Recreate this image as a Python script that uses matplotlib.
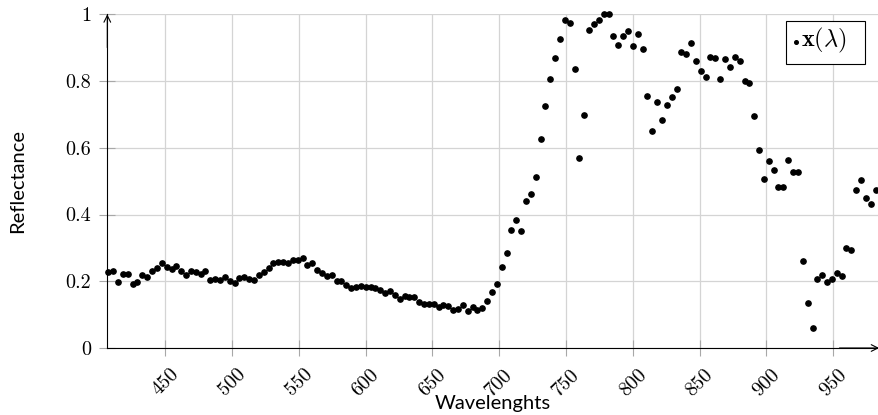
import matplotlib
matplotlib.use("Agg")
import matplotlib.pyplot as plt
from matplotlib.patches import Rectangle
from matplotlib.lines import Line2D

plt.rcParams['mathtext.fontset'] = 'cm'
plt.rcParams['axes.formatter.use_mathtext'] = True

wavelengths = [
    407.4, 411.0, 414.7, 418.3, 421.9, 425.6, 429.2, 432.8, 436.5, 440.1,
    443.8, 447.4, 451.0, 454.7, 458.3, 461.9, 465.6, 469.2, 472.8, 476.5,
    480.1, 483.7, 487.4, 491.0, 494.6, 498.3, 501.9, 505.5, 509.2, 512.8,
    516.5, 520.1, 523.7, 527.4, 531.0, 534.6, 538.3, 541.9, 545.5, 549.2,
    552.8, 556.4, 560.1, 563.7, 567.3, 571.0, 574.6, 578.2, 581.9, 585.5,
    589.2, 592.8, 596.4, 600.1, 603.7, 607.3, 611.0, 614.6, 618.2, 621.9,
    625.5, 629.1, 632.8, 636.4, 640.0, 643.7, 647.3, 650.9, 654.6, 658.2,
    661.9, 665.5, 669.1, 672.8, 676.4, 680.0, 683.7, 687.3, 690.9, 694.6,
    698.2, 701.8, 705.5, 709.1, 712.7, 716.4, 720.0, 723.6, 727.3, 730.9,
    734.6, 738.2, 741.8, 745.5, 749.1, 752.7, 756.4, 760.0, 763.6, 767.3,
    770.9, 774.5, 778.2, 781.8, 785.4, 789.1, 792.7, 796.3, 800.0, 803.6,
    807.3, 810.9, 814.5, 818.2, 821.8, 825.4, 829.1, 832.7, 836.3, 840.0,
    843.6, 847.2, 850.9, 854.5, 858.1, 861.8, 865.4, 869.0, 872.7, 876.3,
    880.0, 883.6, 887.2, 890.9, 894.5, 898.1, 901.8, 905.4, 909.0, 912.7,
    916.3, 919.9, 923.6, 927.2, 930.8, 934.5, 938.1, 941.7, 945.4, 949.0,
    952.7, 956.3, 959.9, 963.6, 967.2, 970.8, 974.5, 978.1, 981.7,
]

reflectance = [
    0.227, 0.232, 0.198, 0.223, 0.222, 0.191, 0.198, 0.219, 0.214, 0.231,
    0.241, 0.254, 0.244, 0.236, 0.247, 0.230, 0.219, 0.230, 0.227, 0.223,
    0.231, 0.205, 0.208, 0.204, 0.214, 0.201, 0.195, 0.209, 0.212, 0.207,
    0.203, 0.218, 0.229, 0.240, 0.254, 0.258, 0.257, 0.255, 0.263, 0.265,
    0.269, 0.249, 0.254, 0.234, 0.226, 0.216, 0.219, 0.200, 0.201, 0.188,
    0.181, 0.182, 0.186, 0.184, 0.184, 0.179, 0.174, 0.166,
    0.170, 0.159, 0.148, 0.155, 0.154, 0.154, 0.138, 0.133, 0.131, 0.131,
    0.123, 0.129, 0.125, 0.114, 0.117, 0.129, 0.111, 0.123, 0.114, 0.121,
    0.142, 0.168, 0.191, 0.243, 0.285, 0.353, 0.383, 0.350, 0.441,
    0.460, 0.513, 0.625, 0.725, 0.806, 0.870, 0.926, 0.982, 0.974, 0.836,
    0.569, 0.697, 0.953, 0.971, 0.982, 1.002, 1.000, 0.934, 0.908, 0.936,
    0.951, 0.906, 0.941, 0.896, 0.755, 0.650, 0.736, 0.682, 0.727, 0.751,
    0.777,
    0.887, 0.880, 0.915, 0.861, 0.829, 0.813, 0.872, 0.870, 0.805, 0.865,
    0.842, 0.872, 0.860, 0.799, 0.794, 0.695, 0.592, 0.505, 0.559, 0.532,
    0.482, 0.481, 0.562, 0.527, 0.527,
    0.261, 0.135, 0.061, 0.206, 0.220, 0.198, 0.208, 0.226, 0.216, 0.299,
    0.294,
    0.472, 0.503, 0.451, 0.431, 0.472,
]

x_ticks = [450, 500, 550, 600, 650, 700, 750, 800, 850, 900, 950]
x_tick_labels = [str(t) for t in x_ticks]
y_ticks = [0, 0.2, 0.4, 0.6, 0.8, 1.0]
y_tick_labels = ["0", "0.2", "0.4", "0.6", "0.8", "1"]
legend_label = r"$\mathbf{x}(\lambda)$"

W, H = 879, 415
fig = plt.figure(figsize=(W / 100, H / 100), dpi=100)
left_px, right_px, top_px, bottom_px = 107.3, 878.0, 14.3, 348.0
ax = fig.add_axes([left_px / W, (H - bottom_px) / H,
                   (right_px - left_px) / W, (bottom_px - top_px) / H])


def fx(px):
    return px / W


def fy(py):
    return (H - py) / H


ax.plot(wavelengths, reflectance, linestyle='none', marker='o', ms=3.8,
        color='black', zorder=3, clip_on=False)

ax.set_xlim(406.6, 983.5)
ax.set_ylim(0, 1)

ax.set_xticks(x_ticks, labels=x_tick_labels)
ax.set_yticks(y_ticks, labels=y_tick_labels)
for lab in ax.get_xticklabels() + ax.get_yticklabels():
    lab.set_fontfamily('cmr10')
    lab.set_fontsize(14.5)
for lab in ax.get_xticklabels():
    lab.set_rotation(45)
    lab.set_ha('center')
    lab.set_va('top')

ax.tick_params(axis='both', direction='inout', length=11, width=0.8,
               color='#a8a8a8', labelcolor='black')
ax.tick_params(axis='x', pad=7)
ax.tick_params(axis='y', pad=6)

ax.grid(True, color='#d4d4d4', linewidth=0.9)
ax.set_axisbelow(True)

for s in ['top', 'right']:
    ax.spines[s].set_visible(False)
for s in ['left', 'bottom']:
    ax.spines[s].set_linewidth(0.8)
    ax.spines[s].set_color('black')
    ax.spines[s].set_zorder(4)

# arrow heads
ax.annotate('', xy=(0, 1.0), xytext=(0, 0.9), xycoords='axes fraction',
            arrowprops=dict(arrowstyle='->', lw=0.8, color='black',
                            shrinkA=0, shrinkB=0, mutation_scale=12),
            annotation_clip=False)
ax.annotate('', xy=(1.0015, 0), xytext=(0.95, 0), xycoords='axes fraction',
            arrowprops=dict(arrowstyle='->', lw=0.8, color='black',
                            shrinkA=0, shrinkB=0, mutation_scale=12),
            annotation_clip=False)

ax.set_xlabel("Wavelenghts", fontfamily='Lato', fontsize=14.5)
ax.xaxis.set_label_coords(0.5, (348 - 395) / 333.7)
ax.xaxis.label.set_va('top')
ax.set_ylabel("Reflectance", fontfamily='Lato', fontsize=14.5)
ax.yaxis.set_label_coords((26 - 107.3) / 770.7, 0.5)

# legend drawn manually
fig.patches.append(Rectangle((fx(786), fy(64)), fx(864.5) - fx(786),
                             fy(21.3) - fy(64), transform=fig.transFigure,
                             facecolor='white', edgecolor='black',
                             linewidth=0.8, zorder=10))
fig.lines.append(Line2D([fx(796)], [fy(42.5)], transform=fig.transFigure,
                        marker='o', ms=2.6, color='black', linestyle='none',
                        zorder=11))
fig.text(fx(801.5), fy(40.5), legend_label, fontsize=17.5, ha='left',
         va='center', zorder=11)

fig.savefig("out.png", dpi=100)
